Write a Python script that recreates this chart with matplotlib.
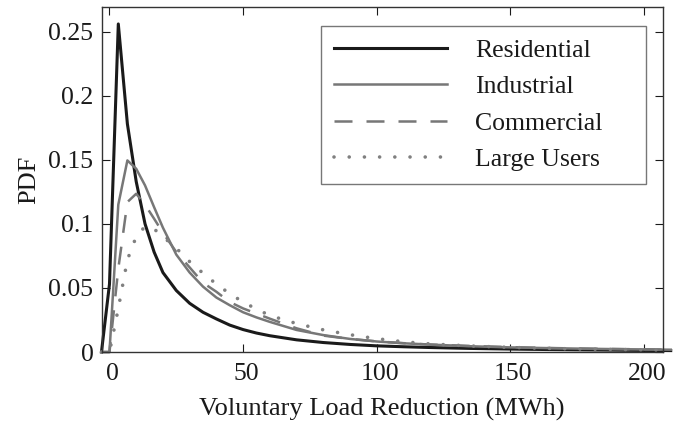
import matplotlib
matplotlib.use("Agg")
import matplotlib.pyplot as plt
from matplotlib.transforms import ScaledTranslation

plt.rcParams['font.family'] = ['Liberation Serif', 'DejaVu Serif']
plt.rcParams['mathtext.fontset'] = 'stix'

# Voluntary load reduction (MWh)
x = [-3, 0, 3.3, 6.7, 10, 13.3, 16.7, 20, 25, 30, 35, 40, 45, 50, 55, 60,
     70, 80, 90, 100, 110, 120, 135, 150, 165, 180, 195, 210]

residential = [0, 0.053, 0.256, 0.178, 0.133, 0.100, 0.078, 0.062, 0.048, 0.038,
               0.031, 0.0258, 0.021, 0.0175, 0.0148, 0.0127, 0.0095, 0.0074,
               0.0059, 0.0048, 0.0041, 0.0035, 0.0028, 0.0023, 0.0019, 0.0016,
               0.0013, 0.0011]
industrial = [0, 0.0, 0.115, 0.1495, 0.143, 0.130, 0.113, 0.097, 0.076, 0.062,
              0.051, 0.0425, 0.0365, 0.031, 0.027, 0.0235, 0.0172, 0.0132,
              0.0102, 0.0082, 0.0068, 0.0058, 0.0045, 0.0036, 0.0030, 0.0025,
              0.0021, 0.0018]
commercial = [0, 0.0, 0.065, 0.117, 0.1235, 0.115, 0.104, 0.093, 0.078, 0.066,
              0.054, 0.047, 0.039, 0.034, 0.030, 0.026, 0.0185, 0.0128,
              0.0102, 0.0083, 0.0069, 0.0058, 0.0047, 0.0038, 0.0031, 0.0026,
              0.0022, 0.0019]
large_users = [0, 0.0, 0.034, 0.072, 0.090, 0.098, 0.096, 0.090, 0.081, 0.0705,
               0.0615, 0.053, 0.0455, 0.039, 0.0335, 0.0285, 0.0222, 0.0173,
               0.0135, 0.0104, 0.0080, 0.0063, 0.0047, 0.0036, 0.0028, 0.0022,
               0.0018, 0.0015]

labels = ['Residential', 'Industrial', 'Commercial', 'Large Users']
xticks = [0, 50, 100, 150, 200]
yticks = [0, 0.05, 0.1, 0.15, 0.2, 0.25]
ytick_labels = ['0', '0.05', '0.1', '0.15', '0.2', '0.25']

fig = plt.figure(figsize=(6.93, 4.24), dpi=100)
ax = fig.add_axes([0.1468, 0.1698, 0.8095, 0.813])

ax.plot(x, residential, color='#1a1a1a', lw=2.2, label=labels[0], clip_on=False)
ax.plot(x, industrial, color='#777777', lw=1.8, label=labels[1], clip_on=False)
ax.plot(x, commercial, color='#777777', lw=1.8, linestyle=(0, (7.2, 5.6)),
        label=labels[2], clip_on=False)
ax.plot(x, large_users, color='#808080', lw=2.6, linestyle=(0, (0.01, 4.2)),
        dash_capstyle='round', label=labels[3], clip_on=False)

ax.set_xlim(-2.9, 207)
ax.set_ylim(0, 0.269)
ax.set_xticks(xticks)
ax.set_xticklabels([str(t) for t in xticks])
ax.set_yticks(yticks)
ax.set_yticklabels(ytick_labels)
ax.tick_params(direction='in', length=6, width=0.8, top=True, right=True,
               labelsize=18.5, colors='#1a1a1a')
ax.tick_params(axis='x', pad=8)
ax.tick_params(axis='y', pad=6)
shift = ScaledTranslation(3 / 100, 0, fig.dpi_scale_trans)
for lab in ax.get_xticklabels():
    lab.set_transform(lab.get_transform() + shift)
for s in ax.spines.values():
    s.set_linewidth(1.0)
    s.set_color('#333333')

ax.set_xlabel('Voluntary Load Reduction (MWh)', fontsize=19, color='#1a1a1a', labelpad=9)
ax.set_ylabel('PDF', fontsize=19, color='#1a1a1a', labelpad=6)

leg = ax.legend(loc='upper left', bbox_to_anchor=(0.3904, 0.4912, 0.5793, 0.4546),
                mode='expand', borderaxespad=0, fontsize=18.5, handlelength=4.4,
                handletextpad=1.1, labelspacing=0.52, fancybox=False, frameon=True,
                borderpad=0.5)
leg.get_frame().set_edgecolor('#555555')
leg.get_frame().set_linewidth(1.0)
for t in leg.get_texts():
    t.set_color('#1a1a1a')

fig.savefig('out.png', dpi=100)
